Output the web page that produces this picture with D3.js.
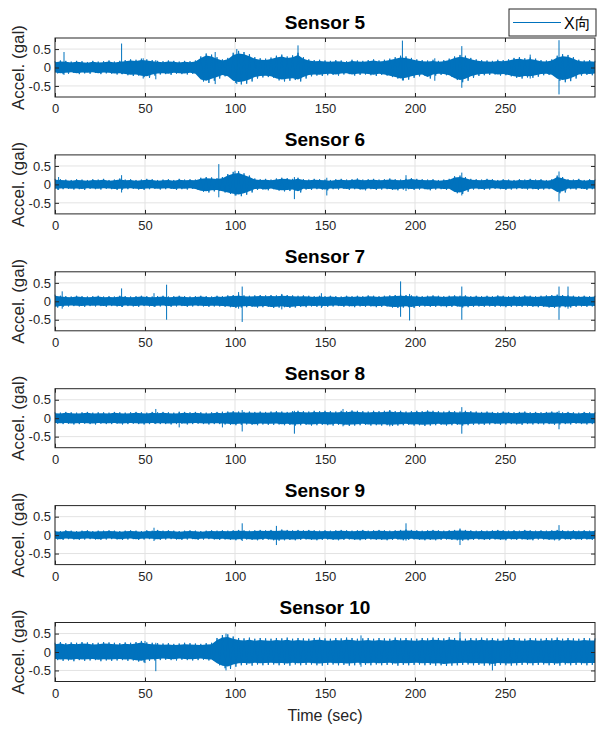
<!DOCTYPE html>
<html>
<head>
<meta charset="utf-8">
<script src="https://cdn.jsdelivr.net/npm/d3@7"></script>
<style>
  body { margin: 0; background: #fff; }
  text { font-family: Arial, "Liberation Sans", Helvetica, sans-serif; }
</style>
</head>
<body>
<script>
// envelope of each trace, one value every binSec seconds, in 0.01 gal
var binSec = 3;
var sensorNames = ["Sensor 5", "Sensor 6", "Sensor 7", "Sensor 8", "Sensor 9", "Sensor 10"];
var xTicks = [0, 50, 100, 150, 200, 250];
var yTicks = [-0.5, 0, 0.5];
var legendLabel = "X向";

var s5Hi = [17,19,18,16,18,17,15,18,16,17,19,16,18, 20,22,21,24, 22,20,18,17,19,18,16,18,17,19,
  30,38,35,28, 22,26, 40,45,42,36, 28,25,24,27, 32,35,30,33,40, 28,22,20,21,19,
  18,20,19,17,21,19,18,20,22,19,21,24, 28,32,30,26, 22,20,19,21,18,20,24, 30,34,32,26,
  22,20,19,18,21,20,22, 26,28,25,27,24, 20,19,22, 32,36,34,28, 21,19,20,18];
var s5Lo = [-16,-18,-17,-15,-18,-16,-17,-15,-18,-16,-17,-19,-18, -21,-23,-22,-26,
  -28,-22,-19,-18,-20,-17,-18,-19,-17,-20, -38,-42,-36,-30, -24,-28, -42,-46,-44,-38,
  -30,-27,-26,-28, -35,-38,-36,-34,-38, -30,-24,-22,-23,-21,
  -20,-22,-19,-18,-22,-20,-19,-21,-23,-20,-22,-26, -30,-35,-33,-28, -24,-22,-30,-22,-20,-21,-25,
  -34,-40,-36,-28, -23,-21,-20,-19,-22,-21,-24, -28,-30,-27,-28,-25, -21,-20,-23,
  -36,-40,-37,-30, -22,-20,-21,-19];
var s5Spikes = [[5,0.42,-0.2],[37,0.65,-0.18],[49,0.25,-0.3],[56,0.2,-0.32],[89,0.42,-0.45],
  [101,0.5,-0.45],[135,0.6,-0.3],[193,0.73,-0.35],[211,0.25,-0.36],[226,0.58,-0.55],
  [264,0.35,-0.3],[280,0.74,-0.73]];

var s6Hi = [15,14,13,12,14,13,12,14,13,15,12,13,16,13,14,12,13,15,14,12,13,14,12,15,13,14,13,
  18,20,19,17, 20, 28,34,36,30,24, 16,14,15,13, 16,18,17,15,18,
  14,13,15,14,13,12,14,15,13,14,16,13,14,15,13,14,16,14,13,15,17,15,14,13,14,12,13,15,
  22,24,20, 15,14,13,15,14,12,14,13,12,14,13,15,13,14,12,14, 24,20, 14,13,15,12,14,13];
var s6Lo = [-14,-13,-12,-14,-13,-15,-12,-13,-14,-12,-13,-15,-14,-13,-12,-14,-15,-13,-12,-14,-13,-12,-15,-13,-14,-12,-15,
  -20,-22,-19,-18, -22, -26,-30,-32,-28,-22, -15,-14,-16,-13, -17,-19,-18,-16,-22,
  -14,-15,-13,-14,-16,-13,-14,-12,-15,-13,-14,-16,-13,-15,-14,-13,-15,-16,-14,-13,-15,-14,-13,-16,-14,-13,-15,-14,
  -24,-26,-20, -14,-13,-15,-14,-12,-13,-15,-14,-13,-12,-14,-13,-15,-14,-13,-14, -24,-22,
  -13,-14,-12,-15,-13,-14];
var s6Spikes = [[2,0.2,-0.15],[37,0.25,-0.22],[91,0.55,-0.35],[100,0.37,-0.3],[133,0.2,-0.4],
  [151,0.18,-0.3],[195,0.25,-0.18],[226,0.32,-0.3],[280,0.35,-0.46]];

var s7Hi = [18,15,14,13,15,14,13,14,15,13, 14,13,15,14,13,14,15,14,13,14, 15,13,14,15,14,13,14,15,14,13,
  15,14,16,17,18,16,15,16,17,16, 17,16,18,17,16,15,16,15,14,15, 14,15,14,13,15,14,15,14,16,15,
  14,15,16,17,18,17,16,15,14,15, 16,15,14,15,16,15,16,14,15,14, 15,14,16,15,14,15,14,16,15,14,
  15,16,17,18,17,16,15,14,15,14, 15];
var s7Lo = [-17,-15,-14,-13,-14,-15,-13,-14,-13,-15, -13,-14,-15,-13,-14,-15,-13,-14,-15,-14,
  -13,-15,-14,-13,-15,-14,-13,-14,-15,-14, -14,-15,-16,-18,-17,-16,-15,-17,-16,-15,
  -18,-17,-16,-18,-17,-15,-16,-14,-15,-14, -15,-14,-13,-15,-14,-16,-14,-15,-14,-16,
  -15,-14,-17,-18,-17,-16,-18,-15,-14,-15, -15,-14,-16,-15,-14,-17,-16,-15,-14,-15,
  -14,-15,-14,-16,-15,-14,-15,-14,-15,-16, -15,-17,-18,-17,-16,-17,-15,-14,-15,-14, -15];
var s7Spikes = [[4,0.27,-0.2],[37,0.35,-0.15],[55,0.22,-0.15],[62,0.45,-0.5],[102,0.25,-0.2],
  [104,0.4,-0.56],[126,0.2,-0.22],[148,0.22,-0.18],[192,0.54,-0.42],[197,0.2,-0.52],
  [226,0.4,-0.5],[280,0.4,-0.5],[285,0.4,-0.2]];

var s8Hi = [16,15,17,16,15,16,17,15,16,16, 15,17,16,15,16,17,16,15,17,16, 17,16,15,16,17,16,17,16,15,16,
  17,16,18,19,18,17,18,17,18,17, 18,19,18,17,19,20,19,18,20,19, 20,19,18,20,19,21,20,19,18,20,
  19,20,21,19,20,18,19,20,19,21, 20,19,18,20,19,18,20,19,18,17, 18,17,16,18,17,16,17,18,16,17,
  16,17,18,17,16,17,16,15,17,16, 16];
var s8Lo = [-15,-16,-15,-17,-16,-15,-16,-17,-15,-16, -16,-15,-17,-16,-15,-16,-17,-16,-15,-16,
  -16,-17,-16,-15,-17,-16,-15,-16,-17,-16, -16,-17,-18,-19,-18,-17,-18,-19,-17,-18,
  -18,-17,-19,-18,-20,-19,-18,-20,-19,-18, -19,-20,-18,-19,-21,-20,-19,-18,-20,-19,
  -20,-19,-21,-20,-19,-18,-20,-19,-21,-20, -19,-18,-20,-19,-18,-20,-19,-18,-17,-18,
  -17,-16,-18,-17,-16,-17,-18,-16,-17,-16, -17,-16,-18,-17,-16,-17,-15,-16,-17,-16, -16];
var s8Spikes = [[56,0.25,-0.16],[69,0.18,-0.25],[93,0.18,-0.25],[104,0.22,-0.36],[133,0.2,-0.42],
  [160,0.25,-0.22],[186,0.22,-0.22],[226,0.3,-0.42],[280,0.2,-0.3]];

var s9Hi = [12,11,13,12,11,12,13,11,12,12, 13,12,11,12,13,12,11,13,12,14, 12,13,12,11,12,13,12,11,12,13,
  12,13,12,13,14,13,12,13,14,13, 14,13,15,14,13,14,13,14,13,12, 13,12,13,14,13,12,13,14,12,13,
  14,13,12,13,14,15,14,13,12,13, 14,13,12,13,14,15,14,13,12,13, 12,13,14,13,12,13,12,14,13,12,
  13,12,13,14,13,12,13,12,13,12, 13];
var s9Lo = [-12,-13,-11,-12,-13,-12,-11,-12,-13,-12, -11,-12,-13,-12,-11,-13,-12,-11,-12,-13,
  -12,-11,-12,-13,-12,-11,-13,-12,-11,-12, -13,-12,-13,-14,-13,-12,-13,-14,-13,-12,
  -14,-15,-14,-13,-14,-13,-12,-13,-14,-13, -12,-13,-14,-13,-12,-13,-14,-13,-12,-13,
  -13,-14,-13,-12,-14,-13,-12,-13,-14,-13, -14,-13,-12,-13,-14,-15,-14,-13,-12,-13,
  -13,-12,-13,-14,-12,-13,-12,-13,-14,-12, -12,-13,-14,-13,-12,-13,-12,-13,-12,-13, -12];
var s9Spikes = [[55,0.2,-0.16],[104,0.32,-0.16],[123,0.25,-0.27],[195,0.32,-0.15],
  [225,0.18,-0.27],[280,0.27,-0.15]];

var s10Hi = [25,27,24,26,25,27,26,24,25,27, 26,25,24,26,25,27,30,26,25,24, 23,24,22,23,25,24,23,22,24,25,
  38,46,48,42,38,37,39,36,38,37, 36,38,37,39,36,38,37,36,38,39, 37,36,38,37,39,38,36,37,38,36,
  38,37,36,39,37,38,37,36,38,37, 39,38,37,40,38,37,36,38,37,39, 37,38,36,37,39,38,37,36,38,37,
  36,38,37,39,36,38,37,36,38,37, 37];
var s10Lo = [-22,-24,-23,-25,-22,-24,-23,-22,-25,-23, -24,-23,-22,-24,-23,-26,-28,-24,-23,-22,
  -21,-22,-23,-21,-22,-23,-22,-21,-23,-24, -36,-44,-46,-40,-36,-35,-37,-34,-36,-35,
  -34,-36,-35,-37,-34,-36,-35,-34,-36,-37, -35,-34,-36,-35,-37,-36,-34,-35,-36,-34,
  -36,-35,-34,-37,-35,-36,-35,-34,-36,-35, -37,-36,-38,-37,-36,-35,-34,-36,-35,-37,
  -36,-38,-35,-36,-37,-36,-35,-34,-36,-35, -34,-36,-35,-37,-34,-36,-35,-34,-36,-35, -35];
var s10Spikes = [[50,0.3,-0.3],[56,0.25,-0.52],[95,0.5,-0.5],[170,0.45,-0.4],[225,0.54,-0.3],
  [243,0.3,-0.5]];

var sensors = [
  {hi: s5Hi, lo: s5Lo, spikes: s5Spikes},
  {hi: s6Hi, lo: s6Lo, spikes: s6Spikes},
  {hi: s7Hi, lo: s7Lo, spikes: s7Spikes},
  {hi: s8Hi, lo: s8Lo, spikes: s8Spikes},
  {hi: s9Hi, lo: s9Lo, spikes: s9Spikes},
  {hi: s10Hi, lo: s10Lo, spikes: s10Spikes}
];

var width = 598,
    height = 731;

var left = 55, right = 595;
var firstTop = 38, step = 116.9, panelH = 59;
var blue = "#0072BD", axisColor = "#262626", gridColor = "#e3e3e3";
var coreShare = 0.85;   // share of the envelope where the trace is drawn solid

var svg = d3.select("body").append("svg")
  .attr("width", width)
  .attr("height", height);

svg.append("rect").attr("width", width).attr("height", height).attr("fill", "#fff");

var x = d3.scaleLinear().domain([0, 300]).range([left, right]);

sensors.forEach(function(s, k) {
  var top = firstTop + k * step;
  var y = d3.scaleLinear().domain([-0.8, 0.8]).range([top + panelH, top]);

  var g = svg.append("g");

  // grid
  g.selectAll(".gx").data(xTicks).enter().append("line")
    .attr("x1", function(d) { return x(d); }).attr("x2", function(d) { return x(d); })
    .attr("y1", top).attr("y2", top + panelH)
    .attr("stroke", gridColor).attr("stroke-width", 1);
  g.selectAll(".gy").data(yTicks).enter().append("line")
    .attr("x1", left).attr("x2", right)
    .attr("y1", function(d) { return y(d); }).attr("y2", function(d) { return y(d); })
    .attr("stroke", gridColor).attr("stroke-width", 1);

  var rows = s.hi.map(function(h, i) { return {t: i * binSec, hi: h / 100, lo: s.lo[i] / 100}; });

  // dense part of the trace
  var area = d3.area()
    .x(function(d) { return x(d.t); })
    .y0(function(d) { return y(d.lo * coreShare); })
    .y1(function(d) { return y(d.hi * coreShare); });
  g.append("path").datum(rows)
    .attr("d", area)
    .attr("fill", blue);

  // peaks: the trace swings between the envelope values
  var swings = [];
  rows.forEach(function(d) {
    swings.push([d.t, d.hi]);
    swings.push([d.t + binSec / 2, d.lo]);
  });
  g.append("path").datum(swings.filter(function(p) { return p[0] <= 300; }))
    .attr("d", d3.line().x(function(p) { return x(p[0]); }).y(function(p) { return y(p[1]); }))
    .attr("fill", "none")
    .attr("stroke", blue)
    .attr("stroke-width", 0.9);

  g.selectAll(".spike").data(s.spikes).enter().append("line")
    .attr("x1", function(d) { return x(d[0]); }).attr("x2", function(d) { return x(d[0]); })
    .attr("y1", function(d) { return y(d[2]); }).attr("y2", function(d) { return y(d[1]); })
    .attr("stroke", blue).attr("stroke-width", 1);

  // axes, ticks pointing in
  var xAxis = d3.axisBottom(x).tickValues(xTicks).tickSize(-4).tickPadding(7).tickFormat(d3.format("d"));
  var xAxisTop = d3.axisTop(x).tickValues(xTicks).tickSize(-4).tickFormat("");
  var yAxis = d3.axisLeft(y).tickValues(yTicks).tickSize(-4).tickPadding(4).tickFormat(function(d) { return d === 0 ? "0" : d; });
  var yAxisRight = d3.axisRight(y).tickValues(yTicks).tickSize(-4).tickFormat("");

  var ax = [
    g.append("g").attr("transform", "translate(0," + (top + panelH) + ")").call(xAxis),
    g.append("g").attr("transform", "translate(0," + top + ")").call(xAxisTop),
    g.append("g").attr("transform", "translate(" + left + ",0)").call(yAxis),
    g.append("g").attr("transform", "translate(" + right + ",0)").call(yAxisRight)
  ];
  ax.forEach(function(a) {
    a.select(".domain").remove();
    a.selectAll("line").attr("stroke", axisColor);
    a.selectAll("text").attr("fill", axisColor).style("font-size", "13px");
  });

  g.append("rect")
    .attr("x", left).attr("y", top)
    .attr("width", right - left).attr("height", panelH)
    .attr("fill", "none").attr("stroke", axisColor).attr("stroke-width", 1);

  g.append("text")
    .attr("x", (left + right) / 2).attr("y", top - 9)
    .attr("text-anchor", "middle")
    .style("font-size", "19px").style("font-weight", "bold")
    .attr("fill", "#000")
    .text(sensorNames[k]);

  g.append("text")
    .attr("transform", "translate(24," + (top + panelH / 2) + ") rotate(-90)")
    .attr("text-anchor", "middle")
    .style("font-size", "17px")
    .attr("fill", axisColor)
    .text("Accel. (gal)");
});

svg.append("text")
  .attr("x", (left + right) / 2).attr("y", 721)
  .attr("text-anchor", "middle")
  .style("font-size", "16px")
  .attr("fill", axisColor)
  .text("Time (sec)");

// legend
var legend = svg.append("g");
legend.append("rect")
  .attr("x", 509).attr("y", 9).attr("width", 87).attr("height", 27)
  .attr("fill", "#fff").attr("stroke", axisColor).attr("stroke-width", 1);
legend.append("line")
  .attr("x1", 513).attr("x2", 561).attr("y1", 22.5).attr("y2", 22.5)
  .attr("stroke", blue).attr("stroke-width", 1);
legend.append("text")
  .attr("x", 564).attr("y", 28.5)
  .style("font-size", "16px")
  .attr("fill", "#000")
  .text(legendLabel);
</script>
</body>
</html>
